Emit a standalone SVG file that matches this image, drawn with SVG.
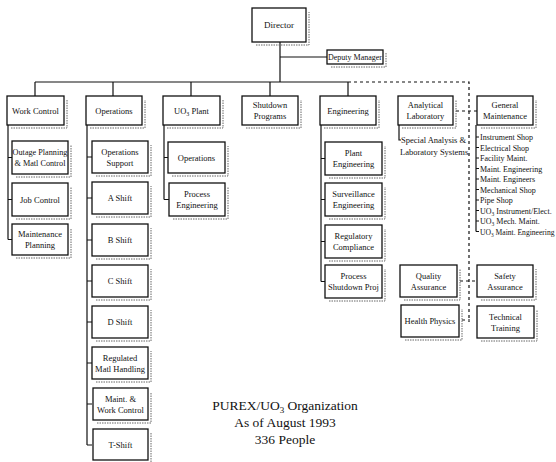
<svg xmlns="http://www.w3.org/2000/svg" width="556" height="462" viewBox="0 0 556 462">
<style>
rect.b{fill:#fff;stroke:#111;stroke-width:1.3}
path.sh{fill:none;stroke:#666;stroke-width:1;stroke-dasharray:1.5 1}
text{font-family:"Liberation Serif","Times New Roman",serif;fill:#111;text-anchor:middle;font-size:8.5px}
text.l{text-anchor:start}
text.s{font-size:8px}
.c path{fill:none;stroke:#111;stroke-width:1.2}
.c path.d{stroke-dasharray:3 3}
text.t{font-size:13.5px}
</style>
<rect width="556" height="462" fill="#fff"/>
<g class="c" id="connectors">
<path d="M280,42V82M280,57H327M35,82H348M35,82V96M113,82V96M191,82V96M270,82V96M348,82V96"/>
<path class="d" d="M348,82H469V322M456,111H477M460,281H477M462,320H470"/>
<path d="M8,125V239.5M8,157.5H12M8,199.5H12M8,239.5H12"/>
<path d="M87,125V445M87,157H92M87,198H92M87,240H92M87,281H92M87,322H92M87,363H92M87,404H92M87,445H92"/>
<path d="M164,125V199.5M164,157.5H168M164,199.5H169"/>
<path d="M321,125V281.5M321,158.5H325M321,199.5H325M321,241.5H325M321,281.5H325"/>
<path d="M399,125V140H401"/>
<path d="M476,125V231.5M476,137H479M476,147.5H479M476,158H479M476,168.5H479M476,179H479M476,189.5H479M476,200H479M476,210.5H479M476,221H479M476,231.5H479"/>
</g>
<g id="director"><rect class="b" x="252" y="8" width="54" height="34"/><path class="sh" d="M256,45H309V12"/><text x="279" y="28" style="font-size:9px">Director</text></g>
<g id="deputy"><rect class="b" x="327" y="50" width="56" height="14"/><path class="sh" d="M331,67H386V53"/><text x="355" y="60" style="font-size:8px">Deputy Manager</text></g>
<g id="work-control"><rect class="b" x="7" y="96" width="57" height="29"/><path class="sh" d="M11,128H67V100"/><text x="35.5" y="113.5">Work Control</text></g>
<g id="outage"><rect class="b" x="12" y="141" width="56" height="33"/><path class="sh" d="M16,177H71V145"/><text x="40" y="155" style="font-size:8.2px">Outage Planning</text><text x="40" y="166" style="font-size:8.2px">&amp; Matl Control</text></g>
<g id="job-control"><rect class="b" x="12" y="183" width="56" height="33"/><path class="sh" d="M16,219H71V187"/><text x="40" y="202.5">Job Control</text></g>
<g id="maint-planning"><rect class="b" x="12" y="224" width="56" height="31"/><path class="sh" d="M16,258H71V228"/><text x="40" y="237">Maintenance</text><text x="40" y="248">Planning</text></g>
<g id="operations"><rect class="b" x="86" y="96" width="56" height="29"/><path class="sh" d="M90,128H145V100"/><text x="114" y="113.5">Operations</text></g>
<g id="ops-support"><rect class="b" x="92" y="141" width="56" height="32"/><path class="sh" d="M96,176H151V145"/><text x="120" y="155">Operations</text><text x="120" y="166">Support</text></g>
<g id="a-shift"><rect class="b" x="92" y="182" width="56" height="32"/><path class="sh" d="M96,217H151V186"/><text x="120" y="201">A Shift</text></g>
<g id="b-shift"><rect class="b" x="92" y="224" width="56" height="32"/><path class="sh" d="M96,259H151V228"/><text x="120" y="243">B Shift</text></g>
<g id="c-shift"><rect class="b" x="92" y="265" width="56" height="32"/><path class="sh" d="M96,300H151V269"/><text x="120" y="284">C Shift</text></g>
<g id="d-shift"><rect class="b" x="92" y="306" width="56" height="32"/><path class="sh" d="M96,341H151V310"/><text x="120" y="325">D Shift</text></g>
<g id="regulated"><rect class="b" x="92" y="347" width="56" height="32"/><path class="sh" d="M96,382H151V351"/><text x="120" y="360.5">Regulated</text><text x="120" y="371.5">Matl Handling</text></g>
<g id="maint-work"><rect class="b" x="93" y="388" width="55" height="32"/><path class="sh" d="M97,423H151V392"/><text x="120.5" y="401.5">Maint. &amp;</text><text x="120.5" y="412.5">Work Control</text></g>
<g id="t-shift"><rect class="b" x="93" y="429" width="55" height="31"/><path class="sh" d="M97,463H151V433"/><text x="120.5" y="447.5">T-Shift</text></g>
<g id="uo3-plant"><rect class="b" x="163" y="96" width="57" height="29"/><path class="sh" d="M167,128H223V100"/><text x="191.5" y="113.5">UO<tspan dy="2" style="font-size:6px">3</tspan><tspan dy="-2"> Plant</tspan></text></g>
<g id="uo3-operations"><rect class="b" x="168" y="142" width="57" height="31"/><path class="sh" d="M172,176H228V146"/><text x="196.5" y="160.5">Operations</text></g>
<g id="process-eng"><rect class="b" x="169" y="183" width="56" height="33"/><path class="sh" d="M173,219H228V187"/><text x="197" y="197">Process</text><text x="197" y="208">Engineering</text></g>
<g id="shutdown"><rect class="b" x="242" y="96" width="56" height="29"/><path class="sh" d="M246,128H301V100"/><text x="270" y="108">Shutdown</text><text x="270" y="119">Programs</text></g>
<g id="engineering"><rect class="b" x="320" y="96" width="56" height="29"/><path class="sh" d="M324,128H379V100"/><text x="348" y="113.5">Engineering</text></g>
<g id="plant-eng"><rect class="b" x="325" y="142" width="57" height="33"/><path class="sh" d="M329,178H385V146"/><text x="353.5" y="156">Plant</text><text x="353.5" y="167">Engineering</text></g>
<g id="surveillance"><rect class="b" x="325" y="183" width="57" height="33"/><path class="sh" d="M329,219H385V187"/><text x="353.5" y="197">Surveillance</text><text x="353.5" y="208">Engineering</text></g>
<g id="regulatory"><rect class="b" x="325" y="225" width="57" height="33"/><path class="sh" d="M329,261H385V229"/><text x="353.5" y="239">Regulatory</text><text x="353.5" y="250">Compliance</text></g>
<g id="process-shutdown"><rect class="b" x="325" y="265" width="57" height="33"/><path class="sh" d="M329,301H385V269"/><text x="353.5" y="279">Process</text><text x="353.5" y="290">Shutdown Proj</text></g>
<g id="analytical"><rect class="b" x="398" y="96" width="55" height="29"/><path class="sh" d="M402,128H456V100"/><text x="425.5" y="108">Analytical</text><text x="425.5" y="119">Laboratory</text><text class="l" x="401" y="143">Special Analysis &amp;</text><text class="l" x="400" y="155">Laboratory Systems</text></g>
<g id="general-maint"><rect class="b" x="477" y="96" width="56" height="29"/><path class="sh" d="M481,128H536V100"/><text x="505" y="108">General</text><text x="505" y="119">Maintenance</text>
<text class="l s" x="480" y="140">Instrument Shop</text>
<text class="l s" x="480" y="150.5">Electrical Shop</text>
<text class="l s" x="480" y="161">Facility Maint.</text>
<text class="l s" x="480" y="171.5">Maint. Engineering</text>
<text class="l s" x="480" y="182">Maint. Engineers</text>
<text class="l s" x="480" y="192.5">Mechanical Shop</text>
<text class="l s" x="480" y="203">Pipe Shop</text>
<text class="l s" x="480" y="213.5">UO<tspan dy="2" style="font-size:5.5px">3</tspan><tspan dy="-2"> Instrument/Elect.</tspan></text>
<text class="l s" x="480" y="224">UO<tspan dy="2" style="font-size:5.5px">3</tspan><tspan dy="-2"> Mech. Maint.</tspan></text>
<text class="l s" x="480" y="234.5" style="font-size:7.6px">UO<tspan dy="2" style="font-size:5.3px">3</tspan><tspan dy="-2"> Maint. Engineering</tspan></text>
</g>
<g id="quality"><rect class="b" x="400" y="265" width="57" height="32"/><path class="sh" d="M404,300H460V269"/><text x="428.5" y="279">Quality</text><text x="428.5" y="290">Assurance</text></g>
<g id="safety"><rect class="b" x="477" y="265" width="56" height="32"/><path class="sh" d="M481,300H536V269"/><text x="505" y="279">Safety</text><text x="505" y="290">Assurance</text></g>
<g id="health"><rect class="b" x="401" y="305" width="58" height="32"/><path class="sh" d="M405,340H462V309"/><text x="430" y="324">Health Physics</text></g>
<g id="training"><rect class="b" x="477" y="306" width="57" height="32"/><path class="sh" d="M481,341H537V310"/><text x="505.5" y="320">Technical</text><text x="505.5" y="331">Training</text></g>
<g id="title"><text class="t" x="285" y="410">PUREX/UO<tspan dy="3" style="font-size:9px">3</tspan><tspan dy="-3"> Organization</tspan></text><text class="t" x="285" y="427">As of August 1993</text><text class="t" x="285" y="444">336 People</text></g>
</svg>
